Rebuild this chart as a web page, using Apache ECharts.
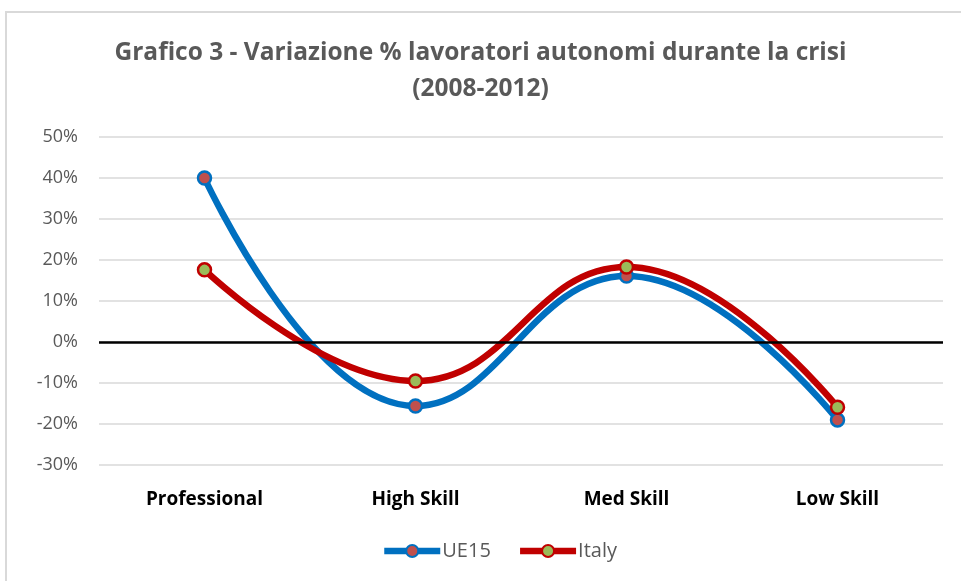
<!DOCTYPE html>
<html>
<head>
<meta charset="utf-8">
<script src="https://cdn.jsdelivr.net/npm/echarts@6/dist/echarts.min.js"></script>
<style>
  html, body { margin: 0; padding: 0; background: #fff; }
  #frame { position: absolute; left: 5px; top: 11px; width: 1000px; height: 600px;
           border-left: 2px solid #d9d9d9; border-top: 2px solid #d9d9d9; }
  #chart { position: absolute; left: 0; top: 0; width: 961px; height: 581px; }
</style>
</head>
<body>
<div id="frame"></div>
<div id="chart"></div>
<script>
var categories = ['Professional', 'High Skill', 'Med Skill', 'Low Skill'];
var ue15 = [0.400, -0.156, 0.161, -0.190];
var italy = [0.176, -0.095, 0.183, -0.159];
var yTicks = [-0.3, 0.5, 0.1]; // min, max, step

var chart = echarts.init(document.getElementById('chart'));

// linee + marker stile excel
function serie(nome, dati, linea, riemp) {
    return {
        name: nome,
        type: 'line',
        data: dati,
        smooth: 0.45,
        symbol: 'circle',
        symbolSize: 13,
        lineStyle: { color: linea, width: 6.5 },
        itemStyle: { color: riemp, borderColor: linea, borderWidth: 2.5 },
        z: 3
    };
}

var option = {
    animation: false,
    title: {
        text: 'Grafico 3 - Variazione % lavoratori autonomi durante la crisi\n(2008-2012)',
        left: 'center',
        top: 30,
        textStyle: {
            fontFamily: 'Open Sans',
            fontSize: 24.5,
            fontWeight: 'bold',
            color: '#595959',
            lineHeight: 36
        }
    },
    legend: {
        bottom: 15,
        left: 376,
        itemWidth: 56,
        itemHeight: 15,
        itemGap: 26,
        lineStyle: { width: 6.5 },
        textStyle: { fontFamily: 'Open Sans', fontSize: 20, color: '#595959', padding: [0, 0, 0, -3] },
        data: ['UE15', 'Italy']
    },
    grid: { left: 99, right: 18, top: 137, bottom: 116 },
    xAxis: {
        type: 'category',
        data: categories,
        axisLine: { show: false },
        axisTick: { show: false },
        axisLabel: {
            margin: 25,
            fontFamily: 'Open Sans',
            fontSize: 19,
            fontWeight: 'bold',
            color: '#000'
        }
    },
    yAxis: {
        type: 'value',
        min: yTicks[0],
        max: yTicks[1],
        interval: yTicks[2],
        axisLine: { show: false },
        axisTick: { show: false },
        splitLine: { lineStyle: { color: '#d9d9d9', width: 1.5 } },
        axisLabel: {
            margin: 21,
            fontFamily: 'Open Sans',
            fontSize: 18,
            color: '#595959',
            formatter: function (v) { return Math.round(v * 100) + '%'; }
        }
    },
    series: [
        serie('UE15', ue15, '#0070C0', '#C0504D'),
        serie('Italy', italy, '#C00000', '#9BBB59'),
        {
            type: 'line',
            data: [],
            markLine: {
                silent: true,
                symbol: 'none',
                label: { show: false },
                lineStyle: { color: '#000', width: 2.5, type: 'solid' },
                data: [{ yAxis: 0 }]
            },
            z: 1
        }
    ]
};
chart.setOption(option);
</script>
</body>
</html>
